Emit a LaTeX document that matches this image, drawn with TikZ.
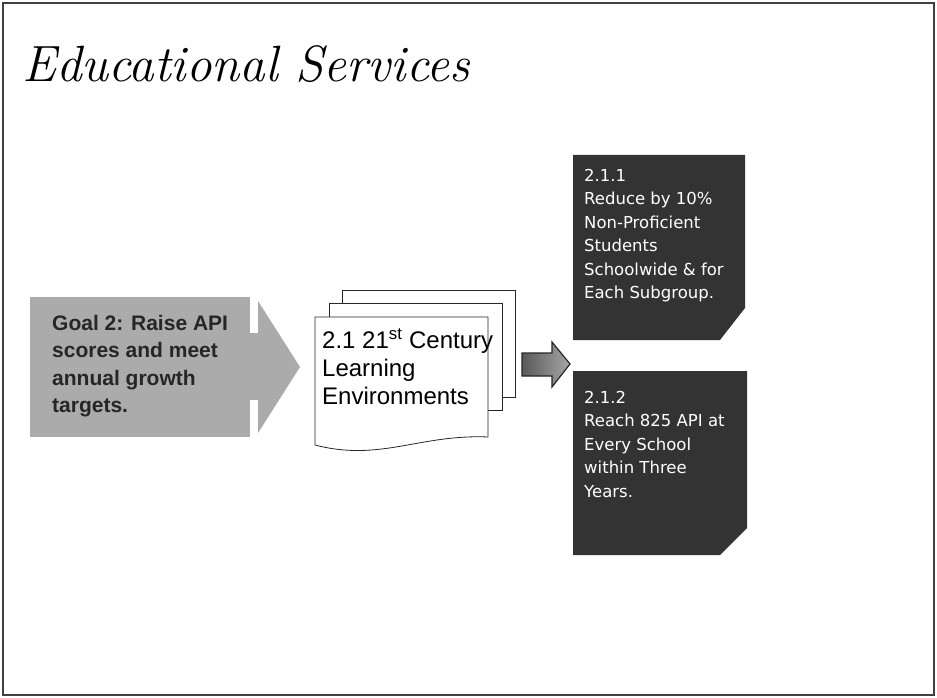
\documentclass[tikz,border=0pt]{standalone}
\usepackage{fontspec}
\newfontfamily\goalfont{Liberation Sans}
\newfontfamily\boxfont{DejaVu Sans}
\begin{document}
\begin{tikzpicture}[x=1pt,y=-1pt]

\tikzstyle{page} = [draw=black!85, fill=white, line width=.8pt];
\tikzstyle{goalfill} = [fill=black!33];
\tikzstyle{darkfill} = [fill=black!80];
\tikzstyle{boxtext} = [anchor=north west, align=left, inner sep=0pt,
	text=white, font=\boxfont\fontsize{16.5}{23.5}\selectfont];
\useasboundingbox (0,0) rectangle (937,698);
\draw[black!75, line width=1.5pt] (3,3) rectangle (934,695);

\node[anchor=base west, inner sep=0pt,
	font=\itshape\fontsize{51}{51}\selectfont] (title) at (22,82) {Educational Services};

\fill[goalfill] (30,297) rectangle (250,437);
\fill[goalfill] (250,333) rectangle (258,400);
\fill[goalfill] (258,301) -- (300,367) -- (258,433) -- cycle;
\node[anchor=north west, align=left, inner sep=0pt, text=black!85,
	font=\goalfont\bfseries\fontsize{21}{27.5}\selectfont] (goal) at (52,315)
	{Goal 2: Raise API\\scores and meet\\annual growth\\targets.};

\draw[page] (342,290) rectangle (515,397);
\draw[page] (329,303) rectangle (502,410);
\draw[page] (315,317) -- (488,317) -- (488,437)
	.. controls (420,434) and (380,462) .. (315,445) -- cycle;
\node[anchor=north west, align=left, inner sep=0pt, text=black,
	font=\goalfont\fontsize{24}{28}\selectfont] (doc) at (322,328)
	{2.1 21\textsuperscript{st} Century\\Learning\\Environments};

\draw[left color=black!65, right color=black!35, draw=black!85, line width=1.2pt]
	(522,353) -- (552,353) -- (552,342) -- (570,364) -- (552,387)
	-- (552,376) -- (522,376) -- cycle;

\fill[darkfill] (573,155) -- (745,155) -- (745,308) -- (720,340) -- (573,340) -- cycle;
\node[boxtext] (b1) at (584,169)
	{2.1.1\\Reduce by 10\%\\Non-Proficient\\Students\\Schoolwide \& for\\Each Subgroup.};

\fill[darkfill] (573,371) -- (747,371) -- (747,528) -- (720,555) -- (573,555) -- cycle;
\node[boxtext] (b2) at (584,391)
	{2.1.2\\Reach 825 API at\\Every School\\within Three\\Years.};

\end{tikzpicture}
\end{document}
